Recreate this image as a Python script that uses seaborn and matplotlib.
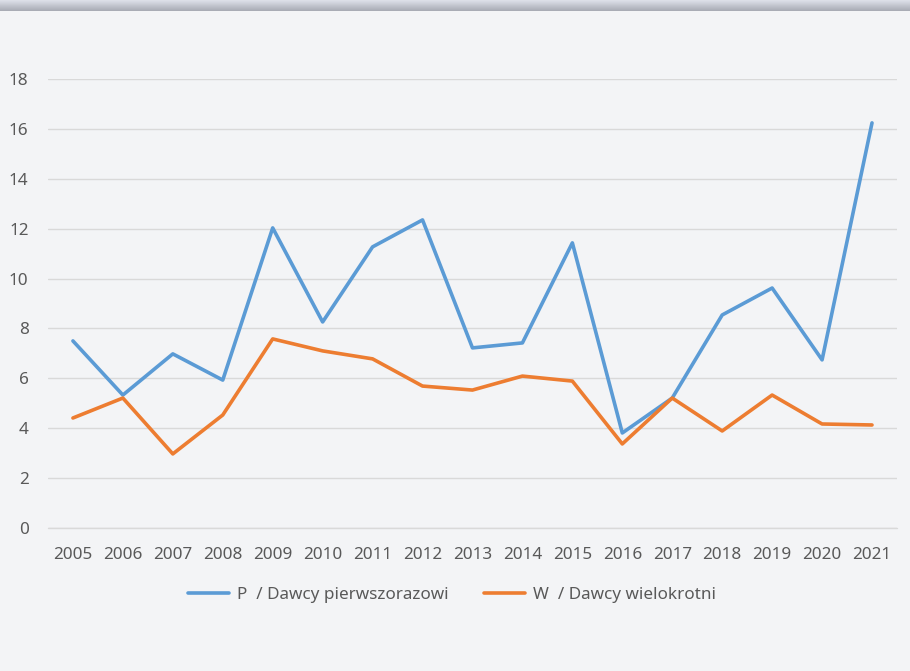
import numpy as np
import pandas as pd
import matplotlib
matplotlib.use("Agg")
import matplotlib.pyplot as plt
import seaborn as sns

# Data
years = [str(y) for y in range(2005, 2022)]
first_time = [7.50, 5.33, 6.98, 5.93, 12.03, 8.26, 11.27, 12.35, 7.22, 7.42,
              11.43, 3.81, 5.21, 8.54, 9.62, 6.74, 16.24]
repeat = [4.41, 5.21, 2.97, 4.53, 7.58, 7.10, 6.78, 5.69, 5.53, 6.09,
          5.89, 3.37, 5.21, 3.89, 5.33, 4.17, 4.13]
series_names = ["P  / Dawcy pierwszorazowi", "W  / Dawcy wielokrotni"]
y_ticks = [0, 2, 4, 6, 8, 10, 12, 14, 16, 18]

df = pd.DataFrame({"rok": years, series_names[0]: first_time, series_names[1]: repeat})
long = df.melt(id_vars="rok", var_name="seria", value_name="wartosc")

bg = "#f3f4f6"
sns.set_theme(style="white")
plt.rcParams["font.family"] = ["Noto Sans", "DejaVu Sans"]

fig = plt.figure(figsize=(9.1, 6.71), dpi=100, facecolor=bg)
ax = fig.add_axes([0.0527, 0.2131, 0.933, 0.6692])
ax.set_facecolor(bg)

sns.lineplot(
    data=long, x="rok", y="wartosc", hue="seria",
    palette=["#5B9BD5", "#ED7D31"], linewidth=2.6, sort=False, ax=ax
)

ax.set_xlim(-0.5, len(years) - 0.5)
ax.set_ylim(0, 18)
ax.set_yticks(y_ticks)
ax.grid(axis="y", color="#d9d9d9", linewidth=1)
ax.axhline(0, color="#d9d9d9", linewidth=1, clip_on=False, zorder=0.5)
ax.set_axisbelow(True)
for s in ax.spines.values():
    s.set_visible(False)
ax.tick_params(axis="both", length=0, labelsize=12.3, colors="#595959")
ax.tick_params(axis="x", pad=14)
ax.tick_params(axis="y", pad=14)
ax.set_xlabel("")
ax.set_ylabel("")

leg = ax.legend(
    loc="upper center", bbox_to_anchor=(0.476, -0.098), ncol=2, frameon=False,
    fontsize=12.3, handlelength=2.4, columnspacing=2.1, handletextpad=0.45
)
for t in leg.get_texts():
    t.set_color("#595959")

# grey gradient bar at the top
bar = fig.add_axes([0, 1 - 11 / 671, 1, 11 / 671])
grad = np.linspace(0, 1, 50).reshape(-1, 1)
cmap = matplotlib.colors.LinearSegmentedColormap.from_list("g", ["#dfe2ea", "#a7aab4"])
bar.imshow(grad, aspect="auto", cmap=cmap)
bar.axis("off")

plt.savefig("out.png", dpi=100, facecolor=bg)
